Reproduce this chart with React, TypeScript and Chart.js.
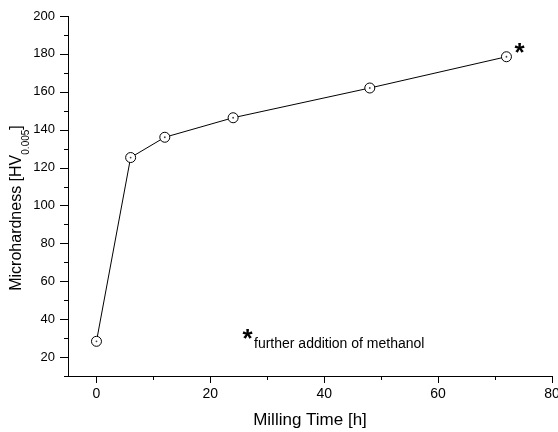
import { useEffect, useRef } from 'react';
import { Chart, registerables } from 'chart.js';
Chart.register(...registerables);

const millingHours = [0, 6, 12, 24, 48, 72];
const microhardness = [28.3, 125.3, 136, 146.3, 162, 178.5];
const xMajorTicks = [0, 20, 40, 60, 80];
const xMinorTicks = [10, 30, 50, 70];
const yMajorTicks = [20, 40, 60, 80, 100, 120, 140, 160, 180, 200];
const yMinorTicks = [10, 30, 50, 70, 90, 110, 130, 150, 170, 190];
const xTitle = 'Milling Time [h]';
const yTitleMain = 'Microhardness [HV';
const yTitleSub = '0.005';
const yTitleEnd = ']';
const noteMark = '*';
const noteText = 'further addition of methanol';

const FONT = '"Liberation Sans", Arial, Helvetica, sans-serif';

function drawAsterisk(ctx: CanvasRenderingContext2D, cx: number, cy: number) {
  ctx.font = `bold 26px ${FONT}`;
  ctx.textAlign = 'center';
  ctx.textBaseline = 'alphabetic';
  const m = ctx.measureText(noteMark);
  const baseline = cy - (m.actualBoundingBoxDescent - m.actualBoundingBoxAscent) / 2;
  ctx.fillText(noteMark, cx, baseline);
}

const decorPlugin = {
  id: 'decor',
  afterDraw(chart: any) {
    const ctx: CanvasRenderingContext2D = chart.ctx;
    const xs = chart.scales.x;
    const ys = chart.scales.y;
    const { left, right, bottom } = chart.chartArea;
    ctx.save();
    ctx.strokeStyle = '#000';
    ctx.lineWidth = 1;
    ctx.beginPath();
    const xt = (v: number, len: number) => {
      const p = Math.round(xs.getPixelForValue(v)) + 0.5;
      ctx.moveTo(p, bottom);
      ctx.lineTo(p, bottom + len);
    };
    const yt = (v: number, len: number) => {
      const p = Math.round(ys.getPixelForValue(v)) + 0.5;
      ctx.moveTo(left, p);
      ctx.lineTo(left - len, p);
    };
    xMajorTicks.forEach((v) => xt(v, 7));
    xMinorTicks.forEach((v) => xt(v, 4));
    yMajorTicks.forEach((v) => yt(v, 8));
    yMinorTicks.forEach((v) => yt(v, 4));
    ctx.stroke();

    ctx.fillStyle = '#000';
    // x title
    ctx.font = `17px ${FONT}`;
    ctx.textAlign = 'center';
    ctx.textBaseline = 'alphabetic';
    ctx.fillText(xTitle, (left + right) / 2, 425);

    // y title (rotated, with subscript)
    const mainFont = `16px ${FONT}`;
    const subFont = `10px ${FONT}`;
    ctx.font = mainFont;
    const w1 = ctx.measureText(yTitleMain).width;
    const w3 = ctx.measureText(yTitleEnd).width;
    ctx.font = subFont;
    const w2 = ctx.measureText(yTitleSub).width;
    const total = w1 + w2 + w3;
    ctx.save();
    ctx.translate(21, 208);
    ctx.rotate(-Math.PI / 2);
    ctx.textAlign = 'left';
    let x0 = -total / 2;
    ctx.font = mainFont;
    ctx.fillText(yTitleMain, x0, 0);
    x0 += w1;
    ctx.font = subFont;
    ctx.fillText(yTitleSub, x0, 7.5);
    x0 += w2;
    ctx.font = mainFont;
    ctx.fillText(yTitleEnd, x0, 0);
    ctx.restore();

    // asterisk at last point
    const lastX = xs.getPixelForValue(millingHours[millingHours.length - 1]);
    const lastY = ys.getPixelForValue(microhardness[microhardness.length - 1]);
    drawAsterisk(ctx, lastX + 13, lastY - 9);

    // note
    drawAsterisk(ctx, 247.5, 333.5);
    ctx.font = `14px ${FONT}`;
    ctx.textAlign = 'left';
    ctx.textBaseline = 'alphabetic';
    ctx.fillText(noteText, 254, 348);
    ctx.restore();
  },
};

export default function App() {
  const ref = useRef<HTMLCanvasElement | null>(null);
  useEffect(() => {
    if (!ref.current) return;
    const chart = new Chart(ref.current, {
      type: 'line',
      data: {
        datasets: [
          {
            data: millingHours.map((h, i) => ({ x: h, y: microhardness[i] })),
            showLine: false,
            pointRadius: 0.9,
            pointBorderWidth: 0,
            pointBackgroundColor: '#444',
            borderColor: '#444',
          },
          {
            data: millingHours.map((h, i) => ({ x: h, y: microhardness[i] })),
            borderColor: '#000',
            borderWidth: 1,
            pointRadius: 5,
            pointBorderWidth: 1,
            pointBorderColor: '#000',
            pointBackgroundColor: '#fff',
            tension: 0,
            fill: false,
          },
        ],
      },
      options: {
        responsive: false,
        animation: false,
        devicePixelRatio: 1,
        layout: { padding: { top: 16, right: 5, left: 0, bottom: 0 } },
        plugins: { legend: { display: false }, tooltip: { enabled: false } },
        scales: {
          x: {
            type: 'linear',
            min: -5,
            max: 80,
            grid: { display: false, drawTicks: false, tickLength: 0 },
            border: { display: true, color: '#000', width: 1 },
            ticks: {
              color: '#000',
              font: { family: FONT, size: 14 },
              padding: 10,
              maxRotation: 0,
              autoSkip: false,
            },
            afterBuildTicks: (s: any) => {
              s.ticks = xMajorTicks.map((v) => ({ value: v }));
            },
            afterFit: (s: any) => {
              s.height = 56;
              s.paddingLeft = 0;
              s.paddingRight = 0;
            },
          },
          y: {
            type: 'linear',
            min: 10,
            max: 200,
            grid: { display: false, drawTicks: false, tickLength: 0 },
            border: { display: true, color: '#000', width: 1 },
            ticks: {
              color: '#000',
              font: { family: FONT, size: 13 },
              padding: 13,
              autoSkip: false,
            },
            afterBuildTicks: (s: any) => {
              s.ticks = yMajorTicks.map((v) => ({ value: v }));
            },
            afterFit: (s: any) => {
              s.width = 68;
              s.paddingTop = 0;
              s.paddingBottom = 0;
            },
          },
        },
      },
      plugins: [decorPlugin],
    });
    return () => chart.destroy();
  }, []);
  return (
    <div style={{ position: 'absolute', left: 0, top: 0, width: 558, height: 432 }}>
      <canvas ref={ref} width={558} height={432} />
    </div>
  );
}
